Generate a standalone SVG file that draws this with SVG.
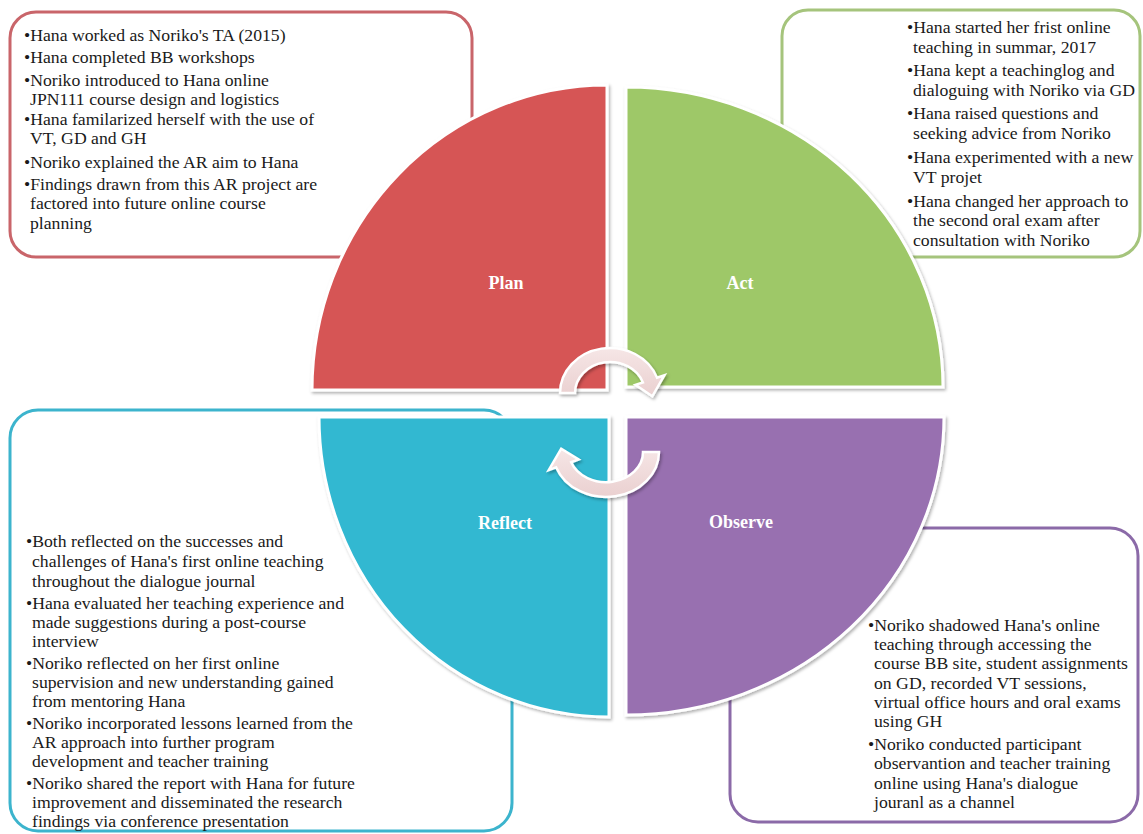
<svg xmlns="http://www.w3.org/2000/svg" width="1143" height="834" viewBox="0 0 1143 834">
<defs>
<filter id="sh" x="-10%" y="-10%" width="125%" height="125%">
<feDropShadow dx="1.5" dy="2" stdDeviation="1.6" flood-color="#000" flood-opacity="0.3"/>
</filter>
<linearGradient id="ag" x1="0" y1="0" x2="0" y2="1">
<stop offset="0" stop-color="#f6e6e6"/>
<stop offset="1" stop-color="#ead0d0"/>
</linearGradient>
</defs>
<style>
.box{fill:#fff;stroke-width:3}
.q{stroke:#fff;stroke-width:3;filter:url(#sh)}
.t{font-family:"Liberation Serif","Times New Roman",serif;font-size:17.7px;fill:#1a1a1a}
.lbl{font-family:"Liberation Serif","Times New Roman",serif;font-size:18px;font-weight:bold;fill:#fff;text-anchor:middle}
.arr{fill:url(#ag);stroke:#fff;stroke-width:2.5;filter:url(#sh)}
</style>
<rect width="1143" height="834" fill="#fff"/>

<g id="plan">
<rect class="box" x="10" y="12" width="462" height="245" rx="26" stroke="#c9656a"/>
<path class="q" d="M607,390 L312,390 A295,305 0 0 1 607,85 Z" fill="#d65555"/>
<text class="lbl" x="506" y="289">Plan</text>
<g class="t">
<text x="24" y="41">•Hana worked as Noriko's TA (2015)</text>
<text x="24" y="63">•Hana completed BB workshops</text>
<text x="24" y="86">•Noriko introduced to Hana online</text>
<text x="30" y="105">JPN111 course design and logistics</text>
<text x="24" y="125">•Hana familarized herself with the use of</text>
<text x="30" y="144">VT, GD and GH</text>
<text x="24" y="168">•Noriko explained the AR aim to Hana</text>
<text x="24" y="190">•Findings drawn from this AR project are</text>
<text x="30" y="209">factored into future online course</text>
<text x="30" y="229">planning</text>
</g>
</g>

<g id="act">
<rect class="box" x="782" y="10" width="358" height="247" rx="26" stroke="#a5c47c"/>
<path class="q" d="M626,387 L626,87 A317,300 0 0 1 943,387 Z" fill="#9ec867"/>
<text class="lbl" x="740" y="289">Act</text>
<g class="t">
<text x="907" y="33">•Hana started her frist online</text>
<text x="913" y="53">teaching in summar, 2017</text>
<text x="907" y="76">•Hana kept a teachinglog and</text>
<text x="913" y="96">dialoguing with Noriko via GD</text>
<text x="907" y="119">•Hana raised questions and</text>
<text x="913" y="139">seeking advice from Noriko</text>
<text x="907" y="163">•Hana experimented with a new</text>
<text x="913" y="183">VT projet</text>
<text x="907" y="207">•Hana changed her approach to</text>
<text x="913" y="226">the second oral exam after</text>
<text x="913" y="246">consultation with Noriko</text>
</g>
</g>

<g id="reflect">
<rect class="box" x="10" y="410" width="502" height="421" rx="28" stroke="#3cb4cd"/>
<path class="q" d="M609,417 L609,717 A290,300 0 0 1 319,417 Z" fill="#33b8d1"/>
<text class="lbl" x="505" y="529">Reflect</text>
<g class="t">
<text x="26" y="547">•Both reflected on the successes and</text>
<text x="32" y="567">challenges of Hana's first online teaching</text>
<text x="32" y="587">throughout the dialogue journal</text>
<text x="26" y="609">•Hana evaluated her teaching experience and</text>
<text x="32" y="628">made suggestions during a post-course</text>
<text x="32" y="647">interview</text>
<text x="26" y="669">•Noriko reflected on her first online</text>
<text x="32" y="688">supervision and new understanding gained</text>
<text x="32" y="707">from mentoring Hana</text>
<text x="26" y="729">•Noriko incorporated lessons learned from the</text>
<text x="32" y="748">AR approach into further program</text>
<text x="32" y="767">development and teacher training</text>
<text x="26" y="789">•Noriko shared the report with Hana for future</text>
<text x="32" y="808">improvement and disseminated the research</text>
<text x="32" y="827">findings via conference presentation</text>
</g>
</g>

<g id="observe">
<rect class="box" x="730" y="528" width="408" height="294" rx="28" stroke="#8b6aa8"/>
<path class="q" d="M626,417 L944,417 A318,298 0 0 1 626,715 Z" fill="#9870b0"/>
<text class="lbl" x="741" y="528">Observe</text>
<g class="t">
<text x="868" y="631">•Noriko shadowed Hana's online</text>
<text x="874" y="650">teaching through accessing the</text>
<text x="874" y="669">course BB site, student assignments</text>
<text x="874" y="689">on GD, recorded VT sessions,</text>
<text x="874" y="708">virtual office hours and oral exams</text>
<text x="874" y="727">using GH</text>
<text x="868" y="750">•Noriko conducted participant</text>
<text x="874" y="769">observantion and teacher training</text>
<text x="874" y="789">online using Hana's dialogue</text>
<text x="874" y="808">jouranl as a channel</text>
</g>
</g>

<g id="connectors">
<path class="arr" d="M560,393 A50,45 0 0 1 657,377.6 L664.5,375.2 L652.3,396.3 L635.4,384.8 L642.9,382.4 A35,31 0 0 0 575,393 Z"/>
<path class="arr" d="M659,452 A53,45 0 0 1 556.2,467.4 L548.7,470.1 L561.2,448.7 L578.7,459.5 L571.2,462.3 A37,30 0 0 0 643,452 Z"/>
</g>
</svg>
